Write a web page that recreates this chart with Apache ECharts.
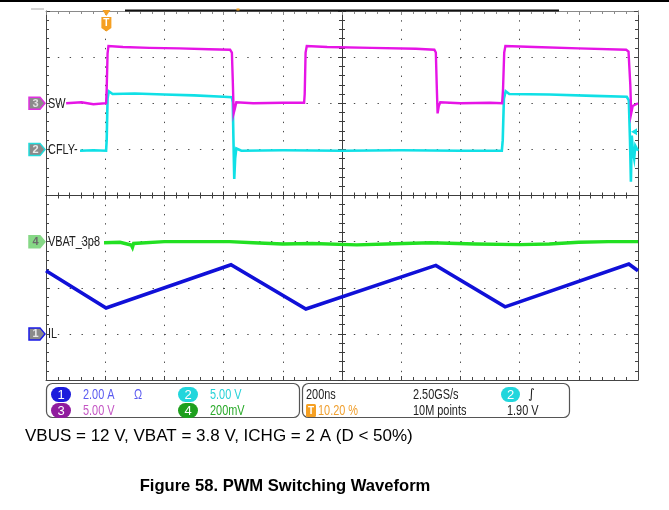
<!DOCTYPE html>
<html>
<head>
<meta charset="utf-8">
<script src="https://cdn.jsdelivr.net/npm/echarts@6/dist/echarts.min.js"></script>
<style>html,body{margin:0;padding:0;background:#fff}#main{width:669px;height:510px}</style>
</head>
<body>
<div id="main"></div>
<script>
// ---------------- DATA ----------------
// time axis: 200 ns/div, 10 divisions, time measured from left edge of screen (ns)
const timeSpanNs = 2000;
const timePerDivNs = 200;
const triggerTimeNs = 204;            // 10.20 % of record
// channel settings: [ch1 IL, ch2 CFLY-, ch3 SW, ch4 VBAT_3p8]
const channelNumbers = ['1', '2', '3', '4'];
const channelLabels = ['IL', 'CFLY-', 'SW', 'VBAT_3p8'];
const channelScale = [2.0, 5.0, 5.0, 0.2];     // A/div or V/div
const channelOffsetDiv = [-3, 1, 2, -1];        // marker position in divisions from centre
const channelRef = [0, 0, 0, 3.8];              // value at the marker
const channelColors = ['#1010d8', '#10e0e6', '#e614e6', '#22e022'];

// ch1 inductor current (A) : [time ns, A]
const ilPoints = [[0, 2.74], [203, 1.12], [625, 3.00], [878, 1.08], [1317, 2.97],
                  [1551, 1.17], [1969, 3.03], [2000, 2.74]];
// ch2 CFLY- (V)
const cflyPoints = [[115, -0.15], [160, -0.1], [203, -0.15], [205, 1.0], [208, 5.5], [212, 6.3],
                    [225, 6.0], [300, 6.05], [400, 5.95], [500, 5.85], [600, 5.7], [628, 5.65],
                    [631, 5.1], [633, 1.5], [636, -3.2], [639, -1.0], [643, 0.1], [660, -0.15],
                    [800, -0.1], [1000, -0.15], [1200, -0.1], [1400, -0.15], [1540, -0.15],
                    [1543, 1.0], [1547, 5.5], [1553, 6.3], [1565, 6.0], [1700, 5.95], [1850, 5.8],
                    [1962, 5.7], [1969, 5.3], [1973, 1.0], [1976, -3.5], [1979, 1.5], [1983, -0.3],
                    [1987, -1.0], [1991, 0.4], [2000, -0.15]];
// ch3 SW (V)
const swPoints = [[68, 0], [120, 0.1], [160, -0.1], [203, 0], [205, 1.5], [208, 5.4], [211, 6.2],
                  [260, 6.1], [350, 6.0], [450, 5.95], [550, 5.85], [622, 5.8], [628, 5.5],
                  [631, 2.5], [634, -1.1], [638, -0.6], [643, 0.1], [700, 0], [800, 0.05],
                  [872, 0.05], [874, 1.0], [877, 5.5], [881, 6.2], [950, 6.1], [1100, 6.0],
                  [1250, 5.9], [1312, 5.8], [1317, 5.5], [1320, 2.0], [1323, -1.1], [1327, -0.3],
                  [1332, 0.1], [1400, 0], [1500, 0.05], [1541, 0], [1544, 1.5], [1548, 5.5],
                  [1552, 6.2], [1650, 6.1], [1800, 5.95], [1960, 5.8], [1968, 5.6], [1974, 2.0],
                  [1977, -1.1], [1982, -0.3], [2000, 0]];
// ch4 VBAT_3p8 (V)
const vbatPoints = [[196, 3.795], [250, 3.797], [288, 3.785], [292, 3.775], [296, 3.792], [400, 3.80],
                    [500, 3.80], [620, 3.80], [700, 3.795], [800, 3.79], [900, 3.792],
                    [1050, 3.786], [1150, 3.79], [1300, 3.795], [1450, 3.79], [1600, 3.787],
                    [1700, 3.79], [1800, 3.797], [1900, 3.80], [2000, 3.80]];
// trigger level on ch2
const triggerLevelV = 1.90;

// readout panel texts
const panelLeft = [
  {badge: '1', text: '2.00 A', extra: 'Ω', row: 0, col: 0},
  {badge: '2', text: '5.00 V', extra: '', row: 0, col: 1},
  {badge: '3', text: '5.00 V', extra: '', row: 1, col: 0},
  {badge: '4', text: '200mV', extra: '', row: 1, col: 1}
];
const panelRight = ['200ns', '2.50GS/s', '10.20 %', '10M points', '1.90 V'];
const captionText = 'VBUS = 12 V, VBAT = 3.8 V, ICHG = 2 A (D < 50%)';
const titleText = 'Figure 58. PWM Switching Waveform';

// ---------------- CHART ----------------
const GRID = {left: 46, top: 11, width: 592, height: 369};
const dotGray = '#4a4a4a';
const borderCol = '#454545';
const scopeFont = "14px 'Liberation Sans',Arial,sans-serif";
const NARROW = 0.78;

function divAxis(range, position, onZero, onZeroIdx, lineColor) {
  return {
    type: 'value', min: -range, max: range, interval: 1, position: position,
    axisLabel: {show: false}, splitLine: {show: false},
    axisLine: {show: true, onZero: onZero, onZeroAxisIndex: onZeroIdx,
               lineStyle: {color: lineColor, width: 1}},
    axisTick: {show: true, inside: true, length: 4, lineStyle: {color: lineColor}},
    minorTick: {show: true, splitNumber: 5, length: 3, lineStyle: {color: lineColor}}
  };
}
function chanAxis(k) {
  return {
    type: 'value', show: false,
    min: channelRef[k] + (-4 - channelOffsetDiv[k]) * channelScale[k],
    max: channelRef[k] + (4 - channelOffsetDiv[k]) * channelScale[k],
    axisLine: {onZero: false}, splitLine: {show: false}
  };
}

const xAxes = [
  {
    type: 'value', min: 0, max: timeSpanNs, interval: timePerDivNs, position: 'bottom',
    axisLabel: {show: false},
    axisLine: {show: true, onZero: false, lineStyle: {color: borderCol, width: 1}},
    axisTick: {show: true, inside: true, length: 4, lineStyle: {color: borderCol}},
    minorTick: {show: true, splitNumber: 5, length: 3, lineStyle: {color: borderCol}},
    splitLine: {show: true, lineStyle: {color: dotGray, width: 1, type: [1.4, 7.825]}}
  },
  divAxis(5, 'top', false, null, '#8a8a8a'),
  divAxis(5, 'bottom', true, 0, '#3c3c3c'),
  divAxis(5, 'top', true, 0, '#3c3c3c')
];
const y0 = divAxis(4, 'left', false, null, borderCol);
y0.splitLine = {show: true, lineStyle: {color: dotGray, width: 1, type: [1.4, 10.44]}};
const yAxes = [
  y0,
  divAxis(4, 'right', false, null, borderCol),
  divAxis(4, 'left', true, 1, '#3c3c3c'),
  divAxis(4, 'right', true, 1, '#3c3c3c'),
  chanAxis(0), chanAxis(1), chanAxis(2), chanAxis(3)
];

function trace(name, data, k, width, z) {
  return {
    name: name, type: 'line', data: data, xAxisIndex: 0, yAxisIndex: 4 + k,
    showSymbol: false, symbol: 'none', animation: false, z: z,
    lineStyle: {color: channelColors[k], width: width, join: 'miter'}
  };
}

const chart = echarts.init(document.getElementById('main'), null, {renderer: 'canvas'});
chart.setOption({
  animation: false,
  backgroundColor: '#ffffff',
  grid: Object.assign({outerBoundsMode: 'none', containLabel: false}, GRID),
  xAxis: xAxes,
  yAxis: yAxes,
  series: [
    trace('VBAT_3p8', vbatPoints, 3, 3.4, 3),
    trace('IL', ilPoints, 0, 3.6, 4),
    trace('CFLY-', cflyPoints, 1, 2.6, 5),
    trace('SW', swPoints, 2, 2.4, 6)
  ]
});

// ---------------- DECORATIONS (positions from the library's scales) ----------------
const g = [];
const toPx = (k, t, v) => chart.convertToPixel({xAxisIndex: 0, yAxisIndex: 4 + k}, [t, v]);
function scopeText(text, x, y, fill, align) {
  return {type: 'text', x: x, y: y, scaleX: NARROW, z: 21,
    style: {text: text, x: 0, y: 0, textAlign: align || 'left', textVerticalAlign: 'middle',
            fill: fill, font: scopeFont}};
}

// page top rule and record bar
g.push({type: 'line', shape: {x1: 0, y1: 1, x2: 669, y2: 1}, style: {stroke: '#000', lineWidth: 2}});
g.push({type: 'rect', shape: {x: 125, y: 9.5, width: 434, height: 2}, style: {fill: '#111'}, z: 10});
g.push({type: 'rect', shape: {x: 236.5, y: 8.5, width: 3, height: 2}, style: {fill: '#f0a020'}, z: 11});
g.push({type: 'line', shape: {x1: 31, y1: 9, x2: 44, y2: 9}, style: {stroke: '#aaa', lineWidth: 1}});

// channel markers
const markerFill = ['#8a8a8a', '#8a8a8a', '#8a8a8a', '#86d886'];
const markerStroke = ['#1a1ae8', '#22dcdc', '#e030e0', '#86d886'];
const markerText = ['#e8e8e8', '#e8e8e8', '#e0e0e0', '#6a6a6a'];
for (let k = 0; k < 4; k++) {
  const y = toPx(k, 0, channelRef[k])[1];
  const x0 = 29;
  g.push({type: 'polygon', z: 20,
    shape: {points: [[x0, y - 6], [x0 + 11, y - 6], [x0 + 16, y], [x0 + 11, y + 6], [x0, y + 6]]},
    style: {fill: markerFill[k], stroke: markerStroke[k], lineWidth: 1.5}});
  g.push({type: 'text', z: 21, style: {text: channelNumbers[k], x: x0 + 6.5, y: y + 0.5,
    textAlign: 'center', textVerticalAlign: 'middle', fill: markerText[k],
    font: "bold 11px 'Liberation Sans',sans-serif"}});
  g.push(scopeText(channelLabels[k], 48, y + 0.5, '#202020'));
}

// trigger position marker
const tx = toPx(0, triggerTimeNs, 0)[0];
g.push({type: 'polygon', z: 22, shape: {points: [[tx - 4, 10], [tx + 4, 10], [tx, 16]]},
  style: {fill: '#f5a023'}});
g.push({type: 'polygon', z: 22,
  shape: {points: [[tx - 5, 17], [tx + 5, 17], [tx + 5, 28], [tx, 31.5], [tx - 5, 28]]},
  style: {fill: '#f5a023'}});
g.push({type: 'text', z: 23, style: {text: 'T', x: tx, y: 23.5, textAlign: 'center',
  textVerticalAlign: 'middle', fill: '#fff', font: "bold 10px 'Liberation Sans',sans-serif"}});

// trigger level marker (ch2)
const tl = toPx(1, timeSpanNs, triggerLevelV);
g.push({type: 'polygon', z: 22,
  shape: {points: [[tl[0] - 7, tl[1]], [tl[0] - 1, tl[1] - 3.5], [tl[0] - 1, tl[1] + 3.5]]},
  style: {fill: channelColors[1]}});

// readout panel
const rowY = [394.5, 410.5];
const badgeCol = ['#1c1cdc', '#22d6dc', '#901c9e', '#1ea01e'];
const textCol = ['#5a5af0', '#28d2d8', '#c455c4', '#2aaa2a'];
g.push({type: 'rect', shape: {x: 46.5, y: 383.5, width: 253, height: 34, r: 6},
  style: {fill: 'none', stroke: '#555', lineWidth: 1.2}});
g.push({type: 'rect', shape: {x: 302.5, y: 383.5, width: 267, height: 34, r: 6},
  style: {fill: 'none', stroke: '#555', lineWidth: 1.2}});
panelLeft.forEach(function (p) {
  const k = parseInt(p.badge, 10) - 1;
  const bx = p.col === 0 ? 51 : 178;
  const y = rowY[p.row];
  g.push({type: 'rect', shape: {x: bx, y: y - 7.5, width: 20, height: 15, r: 7.5}, style: {fill: badgeCol[k]}});
  g.push({type: 'text', style: {text: p.badge, x: bx + 10, y: y + 0.5, textAlign: 'center',
    textVerticalAlign: 'middle', fill: '#fff', font: "13px 'Liberation Sans',sans-serif"}});
  g.push(scopeText(p.text, bx + 32, y + 0.5, textCol[k]));
  if (p.extra) g.push(scopeText(p.extra, 134, y + 0.5, textCol[k]));
});
// right panel
const blk = '#1e1e1e';
g.push(scopeText(panelRight[0], 306, rowY[0] + 0.5, blk));
g.push(scopeText(panelRight[1], 413, rowY[0] + 0.5, blk));
g.push({type: 'rect', shape: {x: 501, y: rowY[0] - 7.5, width: 19, height: 15, r: 7.5}, style: {fill: badgeCol[1]}});
g.push({type: 'text', style: {text: '2', x: 510.5, y: rowY[0] + 0.5, textAlign: 'center', textVerticalAlign: 'middle', fill: '#fff', font: "13px 'Liberation Sans',sans-serif"}});
g.push({type: 'text', style: {text: '\u222B', x: 528, y: rowY[0] + 0.5, textVerticalAlign: 'middle', fill: blk, font: "13px 'DejaVu Sans',sans-serif"}});
g.push({type: 'rect', shape: {x: 306, y: rowY[1] - 6.5, width: 10, height: 13, r: 1.5}, style: {fill: '#f5a023'}});
g.push({type: 'text', style: {text: 'T', x: 311, y: rowY[1] + 0.5, textAlign: 'center', textVerticalAlign: 'middle', fill: '#fff', font: "bold 10px 'Liberation Sans',sans-serif"}});
g.push(scopeText(panelRight[2], 318, rowY[1] + 0.5, '#f0a030'));
g.push(scopeText(panelRight[3], 413, rowY[1] + 0.5, blk));
g.push(scopeText(panelRight[4], 507, rowY[1] + 0.5, blk));

// caption + figure title
g.push({type: 'text', style: {text: captionText, x: 25, y: 436, textVerticalAlign: 'middle',
  fill: '#000', font: "17px 'Liberation Sans',Arial,sans-serif"}});
g.push({type: 'text', style: {text: titleText, x: 285, y: 486, textAlign: 'center', textVerticalAlign: 'middle',
  fill: '#000', font: "bold 16.6px 'Liberation Sans',Arial,sans-serif"}});

chart.setOption({graphic: g});
</script>
</body>
</html>
